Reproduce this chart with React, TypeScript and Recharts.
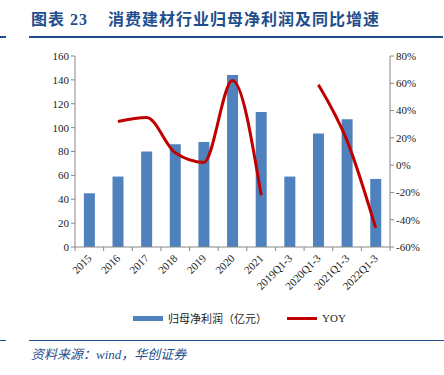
import { ComposedChart, Bar, Line, XAxis, YAxis } from 'recharts'

const categories = ['2015', '2016', '2017', '2018', '2019', '2020', '2021', '2019Q1-3', '2020Q1-3', '2021Q1-3', '2022Q1-3']
const profit = [45, 59, 80, 86, 88, 144, 113, 59, 95, 107, 57]
const yoy: (number | null)[] = [null, 32, 35, 9, 2, 62, -22, null, 59, 18, -46]
const leftTicks = [0, 20, 40, 60, 80, 100, 120, 140, 160]
const rightTicks = [-60, -40, -20, 0, 20, 40, 60, 80]

const data = categories.map((name, i) => ({ name, profit: profit[i], yoy: yoy[i] }))

const blue = '#1F4E8C'
const axisFont = { fontSize: 11, fill: '#222', fontFamily: '"Liberation Serif", serif' }

function XTick(props: any) {
  const { x, y, payload } = props
  const half = 315 / 11 / 2
  return (
    <g>
      <line x1={x - half} y1={y - 8} x2={x - half} y2={y - 4} stroke="#888" />
      {payload.index === categories.length - 1 && (
        <line x1={x + half} y1={y - 8} x2={x + half} y2={y - 4} stroke="#888" />
      )}
      <text x={x + 3} y={y + 4} textAnchor="end" transform={`rotate(-45 ${x + 3} ${y + 4})`} {...axisFont}>
        {payload.value}
      </text>
    </g>
  )
}

export default function App() {
  return (
    <div style={{ position: 'absolute', left: 0, top: 0, width: 444, height: 375, background: '#fff', fontFamily: '"Liberation Serif", "Noto Sans CJK SC", serif' }}>
      <div style={{ position: 'absolute', left: 31, top: 6, fontSize: 16, letterSpacing: 1, fontWeight: 'bold', color: blue, whiteSpace: 'nowrap' }}>
        图表 23&nbsp;&nbsp;&nbsp;&nbsp;消费建材行业归母净利润及同比增速
      </div>
      <div style={{ position: 'absolute', left: 0, top: 36, width: 6, height: 2, background: blue }} />
      <div style={{ position: 'absolute', left: 29, top: 36, width: 414, height: 2, background: blue }} />

      <div style={{ position: 'absolute', left: 0, top: 0 }}>
        <ComposedChart width={444} height={300} data={data} margin={{ top: 56, right: 0, bottom: 0, left: 35 }} barCategoryGap="31%">
          <XAxis dataKey="name" interval={0} tickLine={false} tick={<XTick />} height={53} stroke="#888" />
          <YAxis yAxisId="left" domain={[0, 160]} ticks={leftTicks} width={40} tick={axisFont} stroke="#888" tickSize={4} />
          <YAxis yAxisId="right" orientation="right" domain={[-60, 80]} ticks={rightTicks} width={54} tick={axisFont} stroke="#888" tickSize={4} tickFormatter={(v) => `${v}%`} />
          <Bar yAxisId="left" dataKey="profit" fill="#4F81BD" isAnimationActive={false} />
          <Line yAxisId="right" type="monotone" dataKey="yoy" stroke="#C00000" strokeWidth={3} dot={false} connectNulls={false} isAnimationActive={false} />
        </ComposedChart>
      </div>

      <div style={{ position: 'absolute', left: 133, top: 310, display: 'flex', alignItems: 'center', fontSize: 11, color: '#222', whiteSpace: 'nowrap' }}>
        <span style={{ display: 'inline-block', width: 30, height: 5, background: '#4F81BD', marginRight: 5 }} />
        <span style={{ fontFamily: '"Noto Sans CJK SC", sans-serif' }}>归母净利润（亿元）</span>
        <span style={{ display: 'inline-block', width: 30, height: 3, background: '#C00000', marginLeft: 20, marginRight: 5 }} />
        <span>YOY</span>
      </div>

      <div style={{ position: 'absolute', left: 0, top: 340, width: 6, height: 1, background: blue }} />
      <div style={{ position: 'absolute', left: 29, top: 340, width: 415, height: 1, background: blue }} />
      <div style={{ position: 'absolute', left: 31, top: 344, fontSize: 13, fontStyle: 'italic', color: blue, whiteSpace: 'nowrap' }}>
        资料来源：wind，华创证券
      </div>
    </div>
  )
}
